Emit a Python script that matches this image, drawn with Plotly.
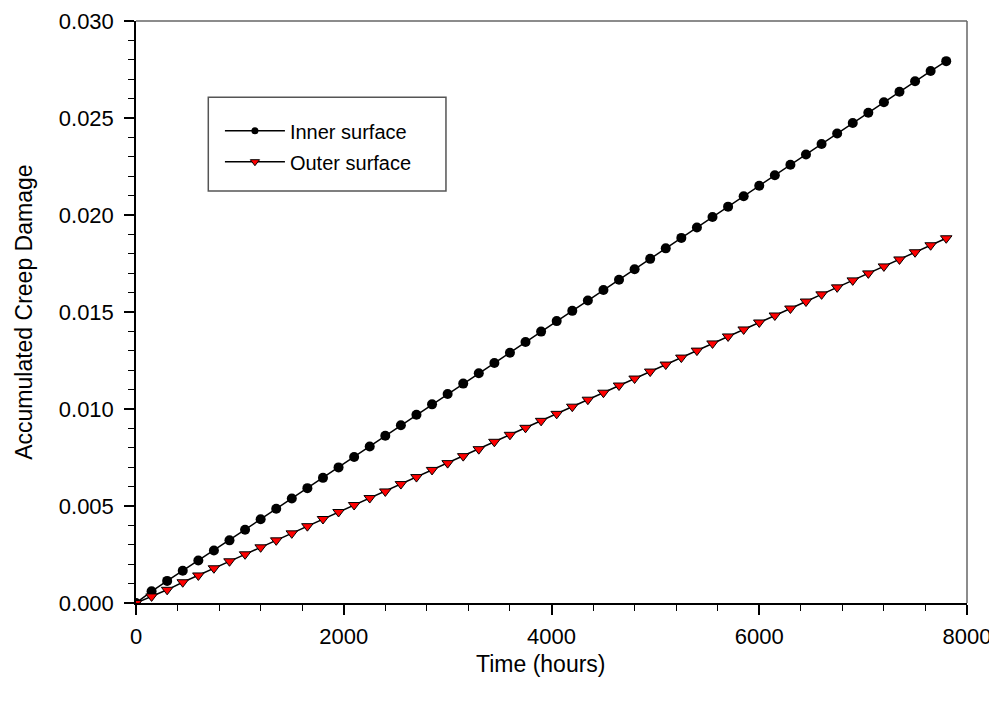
import plotly.graph_objects as go

time_hours = [0, 150, 300, 450, 600, 750, 900, 1050, 1200, 1350, 1500, 1650, 1800, 1950,
              2100, 2250, 2400, 2550, 2700, 2850, 3000, 3150, 3300, 3450, 3600, 3750, 3900,
              4050, 4200, 4350, 4500, 4650, 4800, 4950, 5100, 5250, 5400, 5550, 5700, 5850,
              6000, 6150, 6300, 6450, 6600, 6750, 6900, 7050, 7200, 7350, 7500, 7650, 7800]

inner_surface = [0.00000, 0.00060, 0.00114, 0.00166, 0.00219, 0.00271, 0.00323, 0.00378,
                 0.00432, 0.00486, 0.00539, 0.00592, 0.00645, 0.00699, 0.00753, 0.00807,
                 0.00862, 0.00916, 0.00970, 0.01024, 0.01077, 0.01131, 0.01184, 0.01237,
                 0.01290, 0.01345, 0.01399, 0.01453, 0.01506, 0.01559, 0.01613, 0.01666,
                 0.01720, 0.01774, 0.01828, 0.01882, 0.01936, 0.01990, 0.02043, 0.02097,
                 0.02151, 0.02205, 0.02259, 0.02312, 0.02366, 0.02420, 0.02474, 0.02527,
                 0.02581, 0.02635, 0.02689, 0.02742, 0.02793]

outer_surface = [0.00000, 0.00034, 0.00068, 0.00107, 0.00142, 0.00179, 0.00215, 0.00251,
                 0.00287, 0.00323, 0.00359, 0.00396, 0.00433, 0.00469, 0.00505, 0.00541,
                 0.00575, 0.00613, 0.00649, 0.00686, 0.00721, 0.00757, 0.00793, 0.00831,
                 0.00867, 0.00903, 0.00939, 0.00975, 0.01012, 0.01048, 0.01084, 0.01121,
                 0.01157, 0.01193, 0.01229, 0.01265, 0.01301, 0.01338, 0.01374, 0.01410,
                 0.01446, 0.01482, 0.01518, 0.01554, 0.01591, 0.01627, 0.01663, 0.01699,
                 0.01735, 0.01771, 0.01808, 0.01844, 0.01880]

x_tick_vals = [0, 2000, 4000, 6000, 8000]
y_tick_vals = [0.000, 0.005, 0.010, 0.015, 0.020, 0.025, 0.030]

FONT = "Liberation Sans, Arial, sans-serif"

fig = go.Figure()

fig.add_trace(go.Scatter(
    x=time_hours, y=inner_surface, mode="lines+markers", name="Inner surface",
    line=dict(color="black", width=1.5),
    marker=dict(symbol="circle", size=10, color="black", line=dict(color="black", width=0)),
    showlegend=False))
fig.add_trace(go.Scatter(
    x=time_hours, y=outer_surface, mode="lines+markers", name="Outer surface",
    line=dict(color="black", width=1.5),
    marker=dict(symbol="triangle-down", size=10, color="red", line=dict(color="black", width=1)),
    showlegend=False))

# legend entries (smaller symbols as in the reference legend)
fig.add_trace(go.Scatter(
    x=[None], y=[None], mode="lines+markers", name="Inner surface", legendgroup="a",
    line=dict(color="black", width=1.5),
    marker=dict(symbol="circle", size=7, color="black")))
fig.add_trace(go.Scatter(
    x=[None], y=[None], mode="lines+markers", name="Outer surface", legendgroup="b",
    line=dict(color="black", width=1.5),
    marker=dict(symbol="triangle-down", size=8, color="red", line=dict(color="black", width=1))))

fig.update_layout(
    width=989, height=698,
    margin=dict(l=128, r=30, t=13, b=103),
    paper_bgcolor="white", plot_bgcolor="white",
    font=dict(family=FONT, color="black"),
    showlegend=True,
    legend=dict(
        x=0.101, y=0.845, xanchor="left", yanchor="top",
        bgcolor="rgba(0,0,0,0)", borderwidth=0,
        font=dict(size=20, family=FONT), itemwidth=60, tracegroupgap=2,
    ),
    xaxis=dict(
        range=[0, 8000], tickvals=x_tick_vals, ticktext=[str(v) for v in x_tick_vals],
        automargin=False,
        showgrid=False, zeroline=False, showline=True, linecolor="black", linewidth=1.5,
        ticks="outside", ticklen=10, tickwidth=1.5, tickcolor="black",
        tickfont=dict(size=22, family=FONT), ticklabelstandoff=3,
        minor=dict(dtick=400, ticks="outside", ticklen=6, tickwidth=1, tickcolor="black"),
    ),
    yaxis=dict(
        range=[0, 0.030], tickvals=y_tick_vals, tickformat=".3f",
        automargin=False,
        showgrid=False, zeroline=False, showline=True, linecolor="black", linewidth=1.5,
        ticks="outside", ticklen=10, tickwidth=1.5, tickcolor="black",
        tickfont=dict(size=22, family=FONT), ticklabelstandoff=6,
        minor=dict(dtick=0.001, ticks="outside", ticklen=6, tickwidth=1, tickcolor="black"),
    ),
    shapes=[
        dict(type="line", xref="paper", yref="paper", x0=0, x1=1, y0=1, y1=1,
             line=dict(color="#666666", width=1.5)),
        dict(type="line", xref="paper", yref="paper", x0=1, x1=1, y0=0, y1=1,
             line=dict(color="#666666", width=1.5)),
        dict(type="rect", xref="paper", yref="paper", x0=0.087, x1=0.373, y0=0.708, y1=0.869,
             line=dict(color="#555555", width=1.5), fillcolor="rgba(0,0,0,0)"),
    ],
    annotations=[
        dict(text="Time (hours)", xref="paper", yref="paper", x=0.487, y=-0.104,
             xanchor="center", yanchor="middle", showarrow=False,
             font=dict(size=23, family=FONT)),
        dict(text="Accumulated Creep Damage", xref="paper", yref="paper", x=-0.135, y=0.5,
             xanchor="center", yanchor="middle", showarrow=False, textangle=-90,
             font=dict(size=23, family=FONT)),
    ],
)

fig.write_html("out.html")
